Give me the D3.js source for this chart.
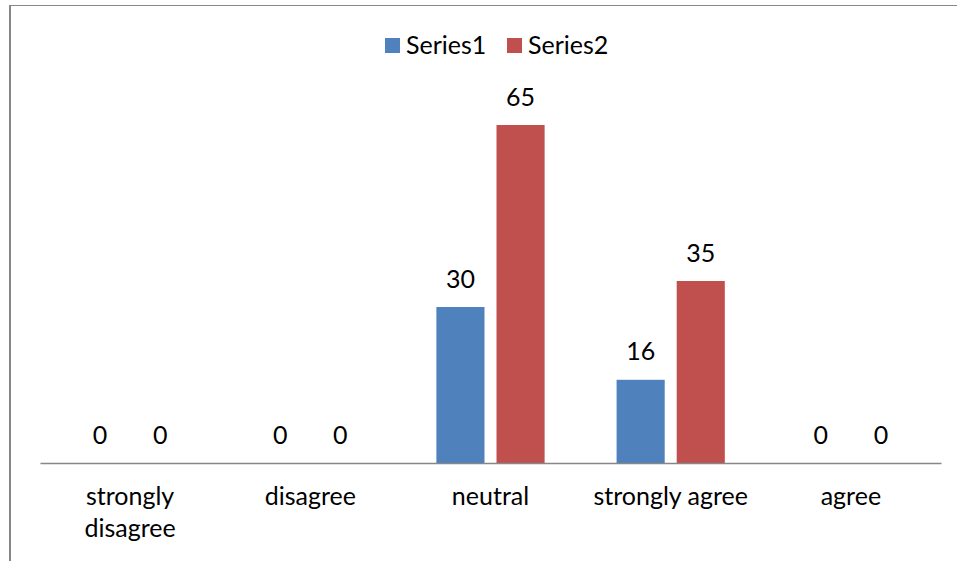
<!DOCTYPE html>
<html>
<head>
<meta charset="utf-8">
<script src="https://cdn.jsdelivr.net/npm/d3@7"></script>
<style>
  html, body { margin: 0; padding: 0; background: #fff; }
  svg { display: block; }
  text { font-family: Lato, "Open Sans", sans-serif; fill: #000; }
</style>
</head>
<body>
<svg id="chart" width="958" height="561"></svg>
<script>
// Response categories (x axis)
const categories = ["strongly disagree", "disagree", "neutral", "strongly agree", "agree"];
// Label lines for each category
const categoryLines = [["strongly", "disagree"], ["disagree"], ["neutral"], ["strongly agree"], ["agree"]];
// Series values per category
const series1 = [0, 0, 30, 16, 0];
const series2 = [0, 0, 65, 35, 0];
const seriesNames = ["Series1", "Series2"];
const seriesColors = ["#4F81BD", "#C0504D"];

const W = 958, H = 561;
const svg = d3.select("#chart");

// Frame of the chart area
svg.append("line").attr("x1", 10).attr("x2", 10).attr("y1", 5).attr("y2", H)
  .attr("stroke", "#878787").attr("stroke-width", 2);
svg.append("line").attr("x1", 9).attr("x2", 957).attr("y1", 5.5).attr("y2", 5.5)
  .attr("stroke", "#878787").attr("stroke-width", 1.2);

const plot = { left: 40, right: 941, top: 99, bottom: 463 };
const fontSize = 25;

const x = d3.scaleBand().domain(categories).range([plot.left, plot.right]).padding(0);
const y = d3.scaleLinear().domain([0, 70]).range([plot.bottom, plot.top]);

const barW = x.bandwidth() * 0.267;
const barGap = x.bandwidth() * 0.0666;
const sub = d3.scaleOrdinal().domain([0, 1]).range([-barGap / 2 - barW, barGap / 2]);

const data = categories.flatMap((c, i) => [
  { c, s: 0, v: series1[i] },
  { c, s: 1, v: series2[i] }
]);

const cx = d => x(d.c) + x.bandwidth() / 2 + sub(d.s);

svg.append("g").selectAll("rect").data(data).join("rect")
  .attr("x", cx)
  .attr("width", barW)
  .attr("y", d => y(d.v))
  .attr("height", d => y(0) - y(d.v))
  .attr("fill", d => seriesColors[d.s]);

// Value labels
svg.append("g").selectAll("text").data(data).join("text")
  .attr("x", d => cx(d) + barW / 2)
  .attr("y", d => y(d.v) - 19.5)
  .attr("text-anchor", "middle")
  .attr("font-size", fontSize)
  .text(d => d.v);

// Category axis
const axis = svg.append("g").attr("transform", `translate(0,${plot.bottom})`)
  .call(d3.axisBottom(x).tickSize(0).tickFormat(""));
axis.select(".domain").attr("stroke", "#878787").attr("stroke-width", 1.6);

const catG = svg.append("g");
categories.forEach((c, i) => {
  const t = catG.append("text")
    .attr("x", x(c) + x.bandwidth() / 2)
    .attr("y", 505)
    .attr("text-anchor", "middle")
    .attr("font-size", fontSize);
  categoryLines[i].forEach((line, j) => {
    t.append("tspan").attr("x", x(c) + x.bandwidth() / 2)
      .attr("dy", j === 0 ? 0 : 32).text(line);
  });
});

// Legend
const legendX = [385, 507];
const leg = svg.append("g");
seriesNames.forEach((n, i) => {
  leg.append("rect").attr("x", legendX[i]).attr("y", 38).attr("width", 15).attr("height", 15)
    .attr("fill", seriesColors[i]);
  leg.append("text").attr("x", legendX[i] + 21).attr("y", 54)
    .attr("font-size", fontSize).text(n);
});
</script>
</body>
</html>
